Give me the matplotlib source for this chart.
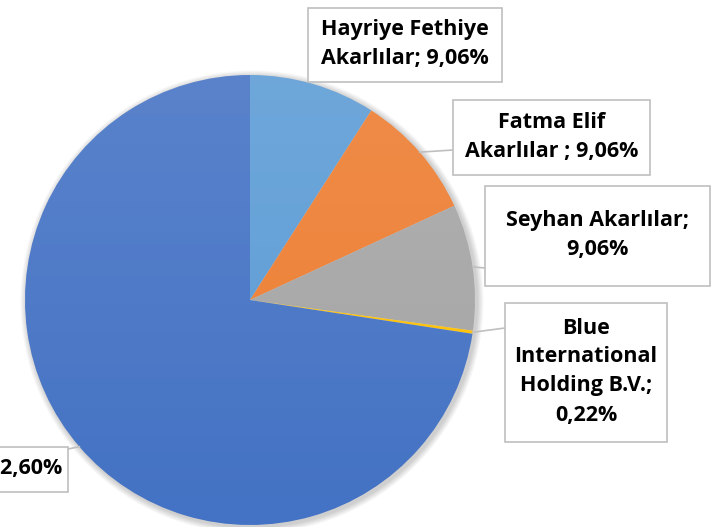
import numpy as np
import matplotlib
matplotlib.use("Agg")
import matplotlib.pyplot as plt
from matplotlib.patches import Rectangle, Circle

# Shareholder structure
names = ["Hayriye Fethiye\nAkarlılar", "Fatma Elif\nAkarlılar ", "Seyhan Akarlılar",
         "Blue\nInternational\nHolding B.V.", "Halka Açık"]
shares = [9.06, 9.06, 9.06, 0.22, 72.60]
colors = ["#5B9BD5", "#ED7D31", "#A5A5A5", "#FFC000", "#4472C4"]
value_sep = [" ", " ", "\n", "\n", " "]

W, H = 728, 527
fig = plt.figure(figsize=(W / 100, H / 100), dpi=100)
ax = fig.add_axes([0, 0, 1, 1])

cx, cy, r = 250, H - 300, 225

# soft drop shadow
for k in range(8):
    ax.add_patch(Circle((cx + 2, cy - 2), r + 1 + k * 0.8, color="black",
                        alpha=0.025, lw=0, zorder=1))

wedges, _ = ax.pie(shares, colors=colors, startangle=90, counterclock=False,
                   radius=r, center=(cx, cy), frame=False,
                   wedgeprops=dict(linewidth=0))
for w in wedges:
    w.set_zorder(2)

# light vertical sheen over the pie
grad = np.linspace(0, 1, 256).reshape(-1, 1)
rgba = np.ones((256, 1, 4))
rgba[..., 3] = 0.12 * grad
img = ax.imshow(rgba, extent=(cx - r, cx + r, cy - r, cy + r), origin="lower",
                aspect="auto", zorder=3, interpolation="bilinear")
img.set_clip_path(Circle((cx, cy), r, transform=ax.transData))

ax.set_xlim(0, W)
ax.set_ylim(0, H)
ax.set_aspect("auto")
ax.axis("off")

# label boxes (x0, y0 top, x1, y1 bottom) in pixel space, and leader endpoints
boxes = [(308, 8, 502, 82), (453, 100, 650, 175), (485, 186, 710, 286),
         (505, 303, 667, 442), (-160, 447, 68, 492)]
leader_end = [None, (453, 150), (485, 268), (505, 328), (68, 449)]

font = ["Open Sans", "DejaVu Sans"]
for i, (nm, v) in enumerate(zip(names, shares)):
    value = f"{v:.2f}%".replace(".", ",")
    label = f"{nm};{value_sep[i]}{value}"
    x0, y0, x1, y1 = boxes[i]
    ax.add_patch(Rectangle((x0, H - y1), x1 - x0, y1 - y0, fc="white",
                           ec="#BFBFBF", lw=1.2, zorder=5))
    tx = (x0 + x1) / 2 if i < 4 else x1 - 6
    ha = "center" if i < 4 else "right"
    ax.text(tx, H - (y0 + y1) / 2 + 1, label, ha=ha, va="center", fontsize=15.5,
            fontweight="bold", family=font, linespacing=1.5, zorder=6,
            color="black")
    if leader_end[i] is not None:
        w = wedges[i]
        ang = np.deg2rad((w.theta1 + w.theta2) / 2)
        px, py = cx + r * np.cos(ang), cy + r * np.sin(ang)
        ex, ey = leader_end[i]
        ax.plot([px, ex], [py, H - ey], color="#BFBFBF", lw=1.2, zorder=4)

fig.savefig("out.png", dpi=100)
